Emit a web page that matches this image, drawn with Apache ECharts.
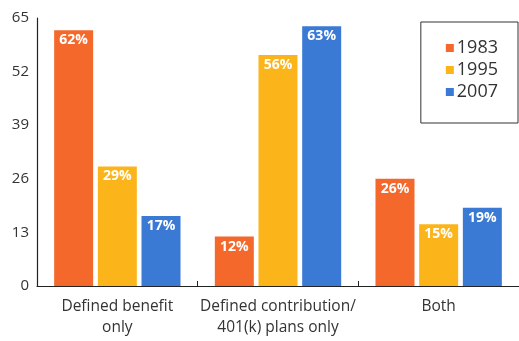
<!DOCTYPE html>
<html>
<head>
<meta charset="utf-8">
<script src="https://cdn.jsdelivr.net/npm/echarts@6/dist/echarts.min.js"></script>
<style>
  html, body { margin: 0; padding: 0; background: #fff; }
  #chart { width: 519px; height: 341px; }
</style>
</head>
<body>
<div id="chart"></div>
<script>
////--------------------------------------------------------------------////
const categories  = ['Defined benefit\nonly', 'Defined contribution/\n401(k) plans only', 'Both'];
const years       = ['1983', '1995', '2007'];
const values_1983 = [62, 12, 26];
const values_1995 = [29, 56, 15];
const values_2007 = [17, 63, 19];
const y_ticks     = [0, 13, 26, 39, 52, 65];
const colors      = ['#F4682B', '#FBB51A', '#3A7AD5'];
////--------------------------------------------------------------------////
const font = '"Open Sans", "Noto Sans", sans-serif';

function make_series(name, data, color) {
    return {
        name: name,
        type: 'bar',
        data: data,
        barWidth: 39,
        barGap: '12%',
        itemStyle: {color: color},
        label: {
            show: true,
            position: 'insideTop',
            distance: 3,
            formatter: '{c}%',
            color: '#fff',
            fontFamily: font,
            fontWeight: 'bold',
            fontSize: 14
        }
    };
}

const chart = echarts.init(document.getElementById('chart'), null, {renderer: 'canvas'});
chart.setOption({
    animation: false,
    textStyle: {fontFamily: font},
    grid: {left: 37, right: 0, top: 18, bottom: 55, containLabel: false},
    legend: {
        orient: 'vertical',
        right: 1,
        top: 22,
        data: years,
        itemWidth: 8,
        itemHeight: 8,
        itemGap: 4,
        icon: 'rect',
        borderColor: '#333',
        borderWidth: 1,
        padding: [17, 20, 22, 25],
        textStyle: {fontFamily: font, fontSize: 18, color: '#333', padding: [0, 0, 0, -2]}
    },
    xAxis: {
        type: 'category',
        data: categories,
        axisLine: {lineStyle: {color: '#222', width: 1.2}},
        axisTick: {show: true, inside: true, length: 5, lineStyle: {color: '#222'}},
        axisLabel: {
            interval: 0,
            fontFamily: font,
            fontSize: 15.5,
            color: '#333',
            margin: 10,
            lineHeight: 21
        }
    },
    yAxis: {
        type: 'value',
        min: 0,
        max: 65,
        interval: 13,
        axisLine: {show: true, lineStyle: {color: '#222', width: 1.2}},
        axisTick: {show: false},
        splitLine: {show: false},
        axisLabel: {
            fontFamily: font,
            fontSize: 15,
            color: '#333',
            margin: 8,
            formatter: function (v) { return y_ticks.indexOf(v) >= 0 ? String(v) : ''; }
        }
    },
    series: [
        make_series(years[0], values_1983, colors[0]),
        make_series(years[1], values_1995, colors[1]),
        make_series(years[2], values_2007, colors[2])
    ]
});
</script>
</body>
</html>
